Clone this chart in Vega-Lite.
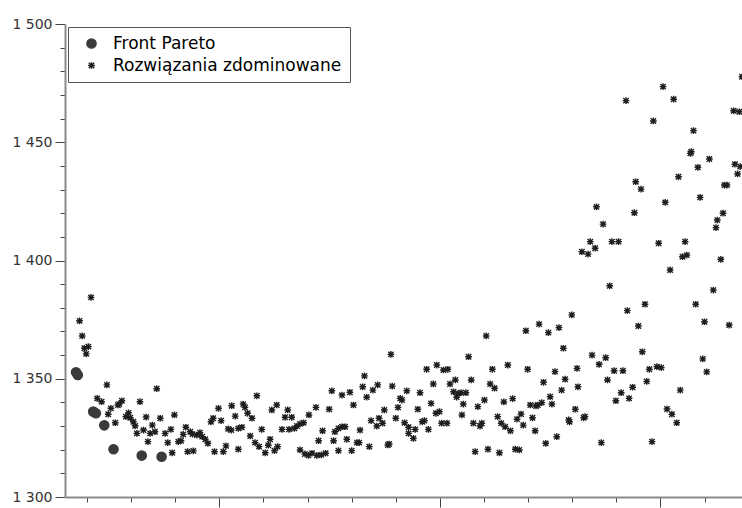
{
  "$schema": "https://vega.github.io/schema/vega-lite/v6.json",
  "width": 677,
  "height": 473,
  "autosize": {"type": "none"},
  "padding": {"left": 65, "top": 24, "right": 0, "bottom": 11},
  "background": "white",
  "config": {"view": {"stroke": null}, "font": "DejaVu Sans"},
  "data": {"values": [
    {"x":1.75,"y":1352.7,"s":"P"},{"x":1.79,"y":1351.6,"s":"P"},{"x":2.14,"y":1336.1,"s":"P"},{"x":2.20,"y":1335.4,"s":"P"},{"x":2.39,"y":1330.3,"s":"P"},{"x":2.60,"y":1320.2,"s":"P"},{"x":3.24,"y":1317.5,"s":"P"},{"x":3.69,"y":1317.0,"s":"P"},
    {"x":2.09,"y":1384.4,"s":"D"},{"x":1.83,"y":1374.5,"s":"D"},{"x":1.89,"y":1368.1,"s":"D"},{"x":1.94,"y":1362.9,"s":"D"},{"x":2.03,"y":1363.6,"s":"D"},{"x":1.98,"y":1360.5,"s":"D"},{"x":2.45,"y":1347.4,"s":"D"},{"x":3.58,"y":1345.8,"s":"D"},{"x":2.23,"y":1341.7,"s":"D"},{"x":2.33,"y":1340.3,"s":"D"},
    {"x":2.54,"y":1337.5,"s":"D"},{"x":2.48,"y":1335.0,"s":"D"},{"x":2.70,"y":1338.9,"s":"D"},{"x":2.79,"y":1340.7,"s":"D"},{"x":2.73,"y":1339.3,"s":"D"},{"x":3.20,"y":1340.3,"s":"D"},{"x":2.94,"y":1335.6,"s":"D"},{"x":2.88,"y":1334.0,"s":"D"},{"x":2.98,"y":1333.5,"s":"D"},{"x":3.05,"y":1331.8,"s":"D"},
    {"x":3.09,"y":1330.1,"s":"D"},{"x":2.64,"y":1331.4,"s":"D"},{"x":3.13,"y":1326.9,"s":"D"},{"x":3.34,"y":1333.8,"s":"D"},{"x":3.28,"y":1328.3,"s":"D"},{"x":3.48,"y":1330.4,"s":"D"},{"x":3.43,"y":1326.9,"s":"D"},{"x":3.54,"y":1327.6,"s":"D"},{"x":3.66,"y":1333.3,"s":"D"},{"x":3.38,"y":1323.4,"s":"D"},
    {"x":3.77,"y":1326.9,"s":"D"},{"x":3.90,"y":1328.6,"s":"D"},{"x":3.83,"y":1323.0,"s":"D"},{"x":3.98,"y":1334.7,"s":"D"},{"x":3.93,"y":1318.7,"s":"D"},{"x":4.07,"y":1323.4,"s":"D"},{"x":4.13,"y":1323.8,"s":"D"},{"x":4.18,"y":1326.5,"s":"D"},{"x":4.24,"y":1329.5,"s":"D"},{"x":4.34,"y":1327.6,"s":"D"},
    {"x":4.39,"y":1326.6,"s":"D"},{"x":4.49,"y":1326.2,"s":"D"},{"x":4.56,"y":1327.2,"s":"D"},{"x":4.61,"y":1325.5,"s":"D"},{"x":4.68,"y":1324.4,"s":"D"},{"x":4.74,"y":1322.7,"s":"D"},{"x":4.28,"y":1319.2,"s":"D"},{"x":4.41,"y":1319.5,"s":"D"},{"x":4.81,"y":1331.8,"s":"D"},{"x":4.86,"y":1333.3,"s":"D"},
    {"x":4.98,"y":1337.5,"s":"D"},{"x":5.04,"y":1332.3,"s":"D"},{"x":5.28,"y":1338.6,"s":"D"},{"x":5.36,"y":1334.2,"s":"D"},{"x":5.20,"y":1328.8,"s":"D"},{"x":5.27,"y":1328.3,"s":"D"},{"x":5.43,"y":1329.0,"s":"D"},{"x":4.89,"y":1319.2,"s":"D"},{"x":5.09,"y":1319.2,"s":"D"},{"x":5.15,"y":1321.6,"s":"D"},
    {"x":5.43,"y":1320.2,"s":"D"},{"x":5.85,"y":1342.8,"s":"D"},{"x":5.54,"y":1339.3,"s":"D"},{"x":5.58,"y":1337.9,"s":"D"},{"x":5.64,"y":1335.4,"s":"D"},{"x":5.74,"y":1333.3,"s":"D"},{"x":5.51,"y":1329.5,"s":"D"},{"x":5.70,"y":1325.8,"s":"D"},{"x":5.81,"y":1323.0,"s":"D"},{"x":5.90,"y":1321.3,"s":"D"},
    {"x":6.04,"y":1318.7,"s":"D"},{"x":5.96,"y":1328.6,"s":"D"},{"x":6.11,"y":1321.9,"s":"D"},{"x":6.15,"y":1324.4,"s":"D"},{"x":6.25,"y":1319.6,"s":"D"},{"x":6.32,"y":1321.3,"s":"D"},{"x":6.19,"y":1336.8,"s":"D"},{"x":6.30,"y":1338.9,"s":"D"},{"x":6.49,"y":1333.7,"s":"D"},{"x":6.55,"y":1336.8,"s":"D"},
    {"x":6.64,"y":1333.7,"s":"D"},{"x":6.42,"y":1328.6,"s":"D"},{"x":6.58,"y":1328.6,"s":"D"},{"x":6.70,"y":1329.0,"s":"D"},{"x":6.76,"y":1330.0,"s":"D"},{"x":6.83,"y":1330.9,"s":"D"},{"x":6.91,"y":1331.4,"s":"D"},{"x":7.03,"y":1334.7,"s":"D"},{"x":7.19,"y":1337.9,"s":"D"},{"x":6.83,"y":1319.9,"s":"D"},
    {"x":6.94,"y":1318.2,"s":"D"},{"x":7.02,"y":1317.6,"s":"D"},{"x":7.10,"y":1318.5,"s":"D"},{"x":7.21,"y":1317.6,"s":"D"},{"x":7.31,"y":1317.8,"s":"D"},{"x":7.41,"y":1318.5,"s":"D"},{"x":7.34,"y":1328.0,"s":"D"},{"x":7.25,"y":1323.8,"s":"D"},{"x":7.49,"y":1337.1,"s":"D"},{"x":7.55,"y":1344.9,"s":"D"},
    {"x":7.62,"y":1327.6,"s":"D"},{"x":7.70,"y":1329.0,"s":"D"},{"x":7.78,"y":1329.7,"s":"D"},{"x":7.85,"y":1329.7,"s":"D"},{"x":7.78,"y":1343.1,"s":"D"},{"x":7.96,"y":1344.3,"s":"D"},{"x":8.04,"y":1338.9,"s":"D"},{"x":7.59,"y":1323.8,"s":"D"},{"x":7.70,"y":1319.6,"s":"D"},{"x":7.89,"y":1324.4,"s":"D"},
    {"x":8.00,"y":1319.6,"s":"D"},{"x":8.12,"y":1323.0,"s":"D"},{"x":8.17,"y":1323.0,"s":"D"},{"x":8.19,"y":1328.3,"s":"D"},{"x":8.25,"y":1346.6,"s":"D"},{"x":8.29,"y":1351.2,"s":"D"},{"x":8.34,"y":1342.2,"s":"D"},{"x":8.48,"y":1345.2,"s":"D"},{"x":8.59,"y":1347.4,"s":"D"},{"x":8.40,"y":1321.3,"s":"D"},
    {"x":8.44,"y":1332.3,"s":"D"},{"x":8.57,"y":1330.0,"s":"D"},{"x":8.62,"y":1333.3,"s":"D"},{"x":8.70,"y":1331.2,"s":"D"},{"x":8.74,"y":1336.8,"s":"D"},{"x":8.82,"y":1322.0,"s":"D"},{"x":8.85,"y":1322.4,"s":"D"},{"x":8.89,"y":1360.3,"s":"D"},{"x":8.92,"y":1346.9,"s":"D"},{"x":9.10,"y":1341.7,"s":"D"},
    {"x":9.14,"y":1341.0,"s":"D"},{"x":9.25,"y":1344.9,"s":"D"},{"x":9.05,"y":1337.9,"s":"D"},{"x":9.00,"y":1333.3,"s":"D"},{"x":9.20,"y":1331.4,"s":"D"},{"x":9.29,"y":1329.5,"s":"D"},{"x":9.29,"y":1326.9,"s":"D"},{"x":9.55,"y":1344.1,"s":"D"},{"x":9.70,"y":1354.0,"s":"D"},{"x":9.93,"y":1355.8,"s":"D"},
    {"x":10.08,"y":1353.7,"s":"D"},{"x":10.18,"y":1354.0,"s":"D"},{"x":10.65,"y":1359.3,"s":"D"},{"x":11.05,"y":1368.1,"s":"D"},{"x":9.85,"y":1347.8,"s":"D"},{"x":10.23,"y":1347.8,"s":"D"},{"x":10.35,"y":1349.5,"s":"D"},{"x":10.71,"y":1349.5,"s":"D"},{"x":10.31,"y":1344.5,"s":"D"},{"x":10.41,"y":1343.8,"s":"D"},
    {"x":10.48,"y":1344.1,"s":"D"},{"x":10.59,"y":1344.1,"s":"D"},{"x":10.38,"y":1342.2,"s":"D"},{"x":10.53,"y":1339.3,"s":"D"},{"x":9.80,"y":1339.6,"s":"D"},{"x":9.50,"y":1337.1,"s":"D"},{"x":9.91,"y":1335.4,"s":"D"},{"x":9.99,"y":1336.1,"s":"D"},{"x":9.44,"y":1328.6,"s":"D"},{"x":9.60,"y":1331.8,"s":"D"},
    {"x":9.65,"y":1332.3,"s":"D"},{"x":9.74,"y":1328.6,"s":"D"},{"x":9.40,"y":1324.8,"s":"D"},{"x":10.04,"y":1331.2,"s":"D"},{"x":10.16,"y":1331.2,"s":"D"},{"x":10.50,"y":1334.7,"s":"D"},{"x":10.76,"y":1331.2,"s":"D"},{"x":10.91,"y":1330.0,"s":"D"},{"x":10.95,"y":1331.2,"s":"D"},{"x":10.86,"y":1338.2,"s":"D"},
    {"x":11.01,"y":1341.0,"s":"D"},{"x":11.14,"y":1347.8,"s":"D"},{"x":11.24,"y":1346.0,"s":"D"},{"x":11.19,"y":1354.0,"s":"D"},{"x":11.54,"y":1355.8,"s":"D"},{"x":11.45,"y":1340.2,"s":"D"},{"x":11.65,"y":1341.6,"s":"D"},{"x":11.31,"y":1334.0,"s":"D"},{"x":11.39,"y":1331.2,"s":"D"},{"x":11.48,"y":1329.7,"s":"D"},
    {"x":11.60,"y":1328.0,"s":"D"},{"x":11.75,"y":1332.9,"s":"D"},{"x":11.84,"y":1335.1,"s":"D"},{"x":11.89,"y":1330.4,"s":"D"},{"x":12.10,"y":1333.5,"s":"D"},{"x":12.16,"y":1328.0,"s":"D"},{"x":12.05,"y":1338.9,"s":"D"},{"x":12.18,"y":1338.5,"s":"D"},{"x":12.22,"y":1338.9,"s":"D"},{"x":12.31,"y":1339.9,"s":"D"},
    {"x":12.54,"y":1339.3,"s":"D"},{"x":12.50,"y":1342.4,"s":"D"},{"x":12.35,"y":1348.5,"s":"D"},{"x":12.61,"y":1353.0,"s":"D"},{"x":12.76,"y":1345.2,"s":"D"},{"x":12.84,"y":1349.8,"s":"D"},{"x":11.99,"y":1354.0,"s":"D"},{"x":12.80,"y":1362.9,"s":"D"},{"x":11.95,"y":1370.3,"s":"D"},{"x":12.25,"y":1373.1,"s":"D"},
    {"x":12.46,"y":1369.5,"s":"D"},{"x":12.70,"y":1371.6,"s":"D"},{"x":12.99,"y":1377.0,"s":"D"},{"x":13.11,"y":1354.4,"s":"D"},{"x":13.13,"y":1346.6,"s":"D"},{"x":13.07,"y":1337.1,"s":"D"},{"x":12.92,"y":1332.6,"s":"D"},{"x":12.94,"y":1331.8,"s":"D"},{"x":12.65,"y":1325.5,"s":"D"},{"x":12.40,"y":1322.7,"s":"D"},
    {"x":10.80,"y":1319.2,"s":"D"},{"x":11.09,"y":1320.2,"s":"D"},{"x":11.35,"y":1318.7,"s":"D"},{"x":11.71,"y":1320.2,"s":"D"},{"x":11.80,"y":1319.9,"s":"D"},{"x":13.22,"y":1403.7,"s":"D"},{"x":13.36,"y":1402.7,"s":"D"},{"x":15.50,"y":1401.6,"s":"D"},{"x":15.60,"y":1402.3,"s":"D"},{"x":16.37,"y":1400.5,"s":"D"},
    {"x":15.22,"y":1396.0,"s":"D"},{"x":13.85,"y":1389.3,"s":"D"},{"x":16.20,"y":1387.5,"s":"D"},{"x":14.65,"y":1381.5,"s":"D"},{"x":14.25,"y":1378.8,"s":"D"},{"x":15.80,"y":1381.5,"s":"D"},{"x":14.50,"y":1372.3,"s":"D"},{"x":16.00,"y":1374.1,"s":"D"},{"x":16.56,"y":1372.7,"s":"D"},{"x":13.45,"y":1360.0,"s":"D"},
    {"x":13.76,"y":1358.9,"s":"D"},{"x":13.61,"y":1356.1,"s":"D"},{"x":13.95,"y":1353.4,"s":"D"},{"x":14.15,"y":1353.4,"s":"D"},{"x":14.59,"y":1361.4,"s":"D"},{"x":14.75,"y":1354.0,"s":"D"},{"x":14.92,"y":1355.1,"s":"D"},{"x":15.02,"y":1354.7,"s":"D"},{"x":15.96,"y":1358.4,"s":"D"},{"x":16.05,"y":1352.9,"s":"D"},
    {"x":13.80,"y":1349.5,"s":"D"},{"x":14.69,"y":1348.9,"s":"D"},{"x":14.11,"y":1344.1,"s":"D"},{"x":14.37,"y":1346.4,"s":"D"},{"x":13.99,"y":1340.7,"s":"D"},{"x":14.29,"y":1341.7,"s":"D"},{"x":15.45,"y":1345.2,"s":"D"},{"x":13.26,"y":1333.5,"s":"D"},{"x":13.29,"y":1334.0,"s":"D"},{"x":15.15,"y":1337.2,"s":"D"},
    {"x":15.26,"y":1335.0,"s":"D"},{"x":15.37,"y":1331.4,"s":"D"},{"x":13.66,"y":1323.0,"s":"D"},{"x":14.81,"y":1323.4,"s":"D"},{"x":15.06,"y":1473.5,"s":"D"},{"x":14.22,"y":1467.6,"s":"D"},{"x":15.30,"y":1468.2,"s":"D"},{"x":14.84,"y":1459.0,"s":"D"},{"x":15.75,"y":1454.9,"s":"D"},{"x":16.66,"y":1463.3,"s":"D"},
    {"x":16.79,"y":1462.9,"s":"D"},{"x":16.85,"y":1477.7,"s":"D"},{"x":15.68,"y":1445.3,"s":"D"},{"x":15.70,"y":1446.0,"s":"D"},{"x":16.11,"y":1442.9,"s":"D"},{"x":15.85,"y":1439.4,"s":"D"},{"x":15.41,"y":1435.4,"s":"D"},{"x":16.69,"y":1440.7,"s":"D"},{"x":16.81,"y":1439.7,"s":"D"},{"x":16.75,"y":1436.6,"s":"D"},
    {"x":14.44,"y":1433.3,"s":"D"},{"x":14.56,"y":1430.2,"s":"D"},{"x":16.45,"y":1431.9,"s":"D"},{"x":16.51,"y":1431.9,"s":"D"},{"x":15.11,"y":1424.6,"s":"D"},{"x":15.90,"y":1426.7,"s":"D"},{"x":13.55,"y":1422.7,"s":"D"},{"x":14.41,"y":1420.2,"s":"D"},{"x":16.42,"y":1420.0,"s":"D"},{"x":16.29,"y":1417.1,"s":"D"},
    {"x":16.26,"y":1413.9,"s":"D"},{"x":13.70,"y":1415.4,"s":"D"},{"x":13.41,"y":1408.0,"s":"D"},{"x":13.52,"y":1405.2,"s":"D"},{"x":13.90,"y":1408.0,"s":"D"},{"x":14.05,"y":1408.0,"s":"D"},{"x":14.96,"y":1407.3,"s":"D"},{"x":15.56,"y":1408.0,"s":"D"}
  ]},
  "mark": {"type": "point", "clip": true, "strokeWidth": 1.4, "opacity": 1},
  "encoding": {
    "x": {
      "field": "x", "type": "quantitative",
      "scale": {"domain": [1.5, 16.85], "nice": false, "zero": false},
      "axis": {
        "title": null, "grid": false, "labels": false,
        "values": [2,3,4,5,6,7,8,9,10,11,12,13,14,15,16],
        "tickSize": {"condition": {"test": "datum.value % 5 === 0", "value": 10}, "value": 5},
        "tickColor": "#444", "domainColor": "#8a8a8a", "domainWidth": 2
      }
    },
    "y": {
      "field": "y", "type": "quantitative",
      "scale": {"domain": [1300, 1500], "nice": false, "zero": false},
      "axis": {
        "title": null, "grid": false,
        "values": [1300,1310,1320,1330,1340,1350,1360,1370,1380,1390,1400,1410,1420,1430,1440,1450,1460,1470,1480,1490,1500],
        "labelExpr": "datum.value % 50 === 0 ? replace(format(datum.value, ','), ',', ' ') : ''",
        "tickSize": {"condition": {"test": "datum.value % 50 === 0", "value": 10}, "value": 5},
        "tickColor": "#444", "domainColor": "#8a8a8a", "domainWidth": 2,
        "labelFont": "DejaVu Sans", "labelFontSize": 14, "labelColor": "#333", "labelPadding": 3
      }
    },
    "shape": {
      "field": "s", "type": "nominal",
      "scale": {"domain": ["P", "D"], "range": ["circle", "M-1,0L1,0M0,-1L0,1M-0.8,-0.8L0.8,0.8M-0.8,0.8L0.8,-0.8"]},
      "legend": {
        "orient": "top-left", "offset": 3, "title": null,
        "labelExpr": "datum.label == 'P' ? 'Front Pareto' : 'Rozwiązania zdominowane'",
        "labelFont": "DejaVu Sans", "labelFontSize": 17, "labelColor": "#000", "labelLimit": 500,
        "strokeColor": "#555", "fillColor": "white", "padding": 8, "rowPadding": 4,
        "symbolOffset": 7, "labelOffset": 13, "symbolStrokeWidth": 1.4
      }
    },
    "fill": {
      "field": "s", "type": "nominal",
      "scale": {"domain": ["P", "D"], "range": ["#3a3a3a", "rgba(0,0,0,0)"]}
    },
    "stroke": {
      "field": "s", "type": "nominal",
      "scale": {"domain": ["P", "D"], "range": ["#3a3a3a", "#1e1e1e"]}
    },
    "size": {
      "field": "s", "type": "nominal",
      "scale": {"domain": ["P", "D"], "range": [85, 45]}
    }
  }
}
